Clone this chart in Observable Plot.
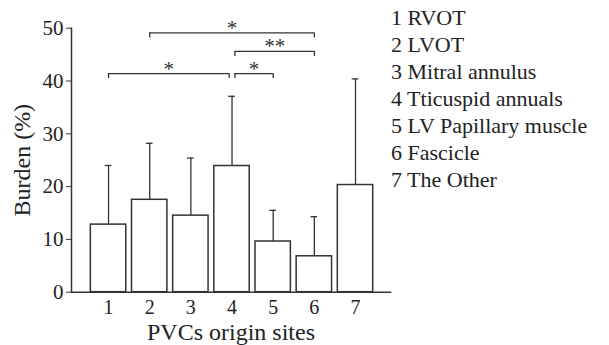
<!DOCTYPE html>
<html>
<head>
<meta charset="utf-8">
<script src="https://cdn.jsdelivr.net/npm/d3@7"></script>
<script src="https://cdn.jsdelivr.net/npm/@observablehq/plot@0.6"></script>
<style>
  html, body { margin: 0; padding: 0; background: #fff; }
  #wrap { position: relative; width: 609px; height: 345px; overflow: hidden; }
  #legend { position: absolute; left: 391px; top: 4px; font-family: "Liberation Serif", "Times New Roman", serif; font-size: 22px; line-height: 27px; color: #222; white-space: nowrap; }
</style>
</head>
<body>
<div id="wrap"><div id="legend"></div></div>
<script>
// ---- data ----
const sites = [1, 2, 3, 4, 5, 6, 7];
const siteNames = ["RVOT", "LVOT", "Mitral annulus", "Tticuspid annuals", "LV Papillary muscle", "Fascicle", "The Other"];
const burdenMean = [12.8, 17.5, 14.5, 23.9, 9.6, 6.8, 20.3];
const burdenUpper = [24.0, 28.2, 25.4, 37.1, 15.5, 14.3, 40.4];
const yTicks = [0, 10, 20, 30, 40, 50];
const compFrom = [1, 4, 4, 2];
const compTo = [4, 5, 6, 6];
const compLevel = [41.4, 41.4, 45.6, 49.1];
const compLabel = ["*", "*", "**", "*"];

// ---- build tables ----
const bars = sites.map((s, i) => ({site: s, mean: burdenMean[i], upper: burdenUpper[i]}));
const counts = d3.rollup([...compFrom, ...compTo], v => v.length, d => d);
const hub = d3.greatest(counts, d => d[1])[0];
const nudge = 0.07, hw = 0.43, cap = 0.08, drop = 0.95;
const comps = compFrom.map((a, i) => {
  const b = compTo[i];
  const lo = Math.min(a, b), hi = Math.max(a, b);
  return {
    x1: lo === hub ? lo + nudge : lo,
    x2: hi === hub ? hi - nudge : hi,
    y: compLevel[i],
    label: compLabel[i]
  };
});
const compEnds = comps.flatMap(c => [{x: c.x1, y: c.y}, {x: c.x2, y: c.y}]);

const ink = "#333";
const font = "'Liberation Serif', 'Times New Roman', serif";

const chart = Plot.plot({
  width: 609,
  height: 345,
  marginLeft: 71,
  marginRight: 219,
  marginTop: 27.7,
  marginBottom: 53.3,
  style: {fontFamily: font, fontSize: "21px", color: "#222", background: "transparent", overflow: "visible"},
  x: {type: "linear", domain: [0.1, 7.85]},
  y: {domain: [0, 50]},
  marks: [
    Plot.ruleX(bars, {x: "site", y1: "mean", y2: "upper", stroke: ink, strokeWidth: 1.3}),
    Plot.ruleY(bars, {y: "upper", x1: d => d.site - cap, x2: d => d.site + cap, stroke: ink, strokeWidth: 1.3}),
    Plot.rectY(bars, {x1: d => d.site - hw, x2: d => d.site + hw, y1: 0, y2: "mean", fill: "white", stroke: ink, strokeWidth: 1.5}),
    Plot.ruleY(comps, {y: "y", x1: "x1", x2: "x2", stroke: ink, strokeWidth: 1.3}),
    Plot.ruleX(compEnds, {x: "x", y1: "y", y2: d => d.y - drop, stroke: ink, strokeWidth: 1.3}),
    Plot.text(comps, {x: d => (d.x1 + d.x2) / 2, y: "y", text: "label", fontSize: 21, fill: "#333", lineAnchor: "bottom", dy: 2}),
    Plot.frame({anchor: "left", stroke: ink, strokeWidth: 1.5}),
    Plot.frame({anchor: "bottom", stroke: ink, strokeWidth: 1.5}),
    Plot.axisY({ticks: yTicks, tickSize: 5, tickPadding: 3, tickFormat: d => String(d), fontSize: 21, stroke: ink, label: null}),
    Plot.axisY({ticks: [], label: "Burden (%)", labelAnchor: "center", labelArrow: "none", labelOffset: 59, fontSize: 24}),
    Plot.axisX({ticks: sites, tickSize: 0, tickPadding: 8, tickFormat: d => String(d), fontSize: 20, label: null}),
    Plot.axisX({ticks: [], label: "PVCs origin sites", labelAnchor: "center", labelArrow: "none", labelOffset: 48, fontSize: 24})
  ]
});
document.getElementById("wrap").prepend(chart);

const legend = document.getElementById("legend");
sites.forEach((s, i) => {
  const div = document.createElement("div");
  div.textContent = s + " " + siteNames[i];
  legend.appendChild(div);
});
</script>
</body>
</html>
